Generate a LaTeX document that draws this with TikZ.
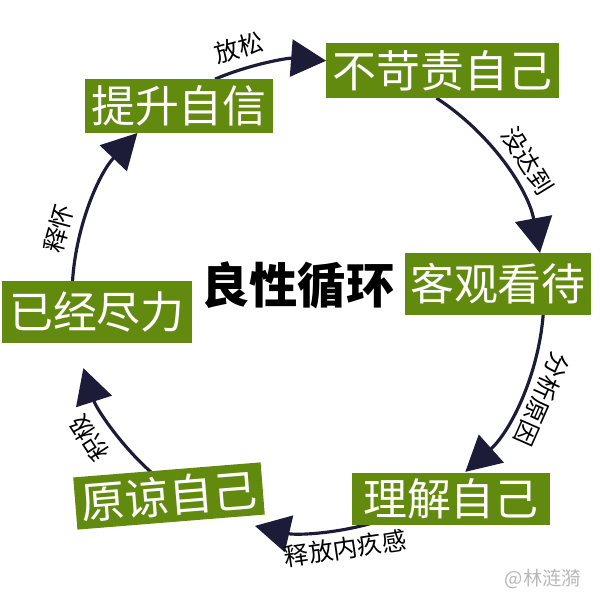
\documentclass[tikz,border=0pt]{standalone}
\usepackage{fontspec}
\setmainfont{Noto Sans CJK SC}
\usepackage{xcolor}
\usepackage{tikz}
\usetikzlibrary{arrows.meta, positioning, calc}

\definecolor{boxgreen}{RGB}{98,138,14}
\definecolor{arcnavy}{RGB}{28,28,56}

\begin{document}
\begin{tikzpicture}[
    x=0.02cm, y=0.02cm,
    stagebox/.style={rectangle, fill=boxgreen, text=white,
                     inner xsep=0.1cm, minimum height=1.12cm,
                     font=\fontsize{25}{25}\selectfont},
    cyclearc/.style={draw=arcnavy, line width=1.8pt,
                     -{Triangle[length=0.7cm, width=0.74cm]}},
    arclabel/.style={font=\fontsize{14}{14}\selectfont, text=black}
]
\useasboundingbox (0,0) rectangle (600,600);

% centre of the cycle
\coordinate (o) at (308,304);
\def\R{4.72cm}
\def\L{5.16cm}

% arcs between the stages
\draw[cyclearc] ($(o)+(113.2:\R)$) arc[start angle=113.2, end angle=85.6, radius=\R];
\draw[cyclearc] ($(o)+(57:\R)$)    arc[start angle=57,    end angle=10.5, radius=\R];
\draw[cyclearc] ($(o)+(-4.6:\R)$)  arc[start angle=-4.6,  end angle=-48.2, radius=\R];
\draw[cyclearc] ($(o)+(-72:\R)$)   arc[start angle=-72,   end angle=-103, radius=\R];
\draw[cyclearc] ($(o)+(-131.7:\R)$) arc[start angle=-131.7, end angle=-162.2, radius=\R];
\draw[cyclearc] ($(o)+(176.4:\R)$) arc[start angle=176.4, end angle=136.3, radius=\R];

% stages
\node[stagebox, minimum width=3.76cm, minimum height=1.08cm] (xin)    at (179,494)   {提升自信};
\node[stagebox, minimum width=4.66cm, minimum height=1.1cm]  (bukeze) at (442.5,529.5) {不苛责自己};
\node[stagebox, minimum width=3.44cm, minimum height=1.24cm] (keguan) at (498,316)   {客观看待};
\node[stagebox, minimum width=3.96cm, minimum height=1.04cm] (lijie)  at (451,101)   {理解自己};
\node[stagebox, minimum width=3.76cm, minimum height=1.04cm, rotate=4.6] (yuanl) at (169,104) {原谅自己};
\node[stagebox, minimum width=3.8cm,  minimum height=1.24cm] (jinli)  at (97,288)    {已经尽力};

% centre title
\node[font=\fontsize{27.5}{27.5}\selectfont\bfseries] (title) at (298,315) {良性循环};

% arc labels
\node[arclabel, rotate=15.6]   (l1) at ($(o)+(105.6:\L)$)  {放松};
\node[arclabel, rotate=-58.4]  (l2) at ($(o)+(31.6:\L)$)   {没达到};
\node[arclabel, rotate=-113.8] (l3) at ($(o)+(-23.8:5.12cm)$) {分析原因};
\node[arclabel, rotate=8.4]    (l4) at ($(o)+(-81.6:5.1cm)$) {释放内疚感};
\node[arclabel, rotate=123]    (l5) at ($(o)+(-147:5.22cm)$) {积极};
\node[arclabel, rotate=74.9]   (l6) at ($(o)+(164.9:\L)$)  {释怀};

% watermark
\node[font=\fontsize{11}{11}\selectfont, text=black!28] (mark) at (543,21) {@林涟漪};

\end{tikzpicture}
\end{document}
